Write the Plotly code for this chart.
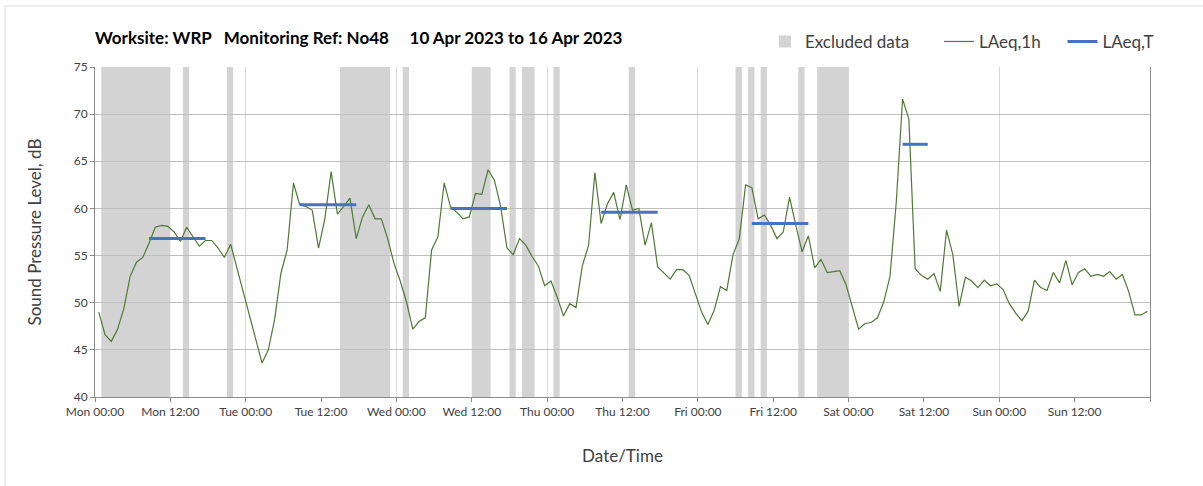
import pandas as pd
import plotly.graph_objects as go

# hourly LAeq readings, Mon 10 Apr 2023 00:00 onwards (168 values)
laeq_1h = [
    49.0, 46.6, 45.9, 47.2, 49.4, 52.8, 54.3, 54.8, 56.3, 58.0, 58.2, 58.1,
    57.5, 56.5, 58.0, 57.0, 56.0, 56.6, 56.6, 55.8, 54.8, 56.2, 53.7, 51.2,
    48.7, 46.2, 43.6, 45.0, 48.2, 53.1, 55.6, 62.7, 60.4, 60.2, 59.8, 55.8,
    58.9, 63.9, 59.4, 60.2, 61.1, 56.8, 59.1, 60.4, 58.9, 58.9, 56.8, 54.2,
    52.3, 50.1, 47.2, 48.0, 48.4, 55.6, 57.0, 62.7, 60.2, 59.6, 58.9, 59.1,
    61.6, 61.5, 64.1, 63.0, 60.2, 55.8, 55.1, 56.8, 56.1, 54.9, 53.9, 51.8,
    52.3, 50.6, 48.6, 49.9, 49.5, 53.9, 56.1, 63.8, 58.4, 60.5, 61.7, 58.8,
    62.5, 59.8, 60.0, 56.1, 58.5, 53.8, 53.2, 52.5, 53.5, 53.5, 52.9, 50.9,
    49.0, 47.7, 49.2, 51.7, 51.3, 55.1, 56.8, 62.5, 62.2, 58.9, 59.3, 58.2,
    56.8, 57.5, 61.2, 58.2, 55.4, 57.1, 53.7, 54.6, 53.2, 53.3, 53.4, 51.9,
    49.5, 47.2, 47.8, 47.9, 48.4, 50.1, 52.8, 60.7, 71.6, 69.5, 53.6, 52.9,
    52.5, 53.1, 51.2, 57.7, 55.1, 49.6, 52.7, 52.3, 51.6, 52.4, 51.8, 52.0,
    51.4, 49.9, 48.9, 48.1, 49.1, 52.4, 51.6, 51.3, 53.2, 52.1, 54.5, 51.9,
    53.2, 53.6, 52.8, 53.0, 52.8, 53.3, 52.5, 53.0, 51.2, 48.7, 48.7, 49.1,
]

# LAeq,T per assessment period (first and last hourly reading, in hours from start)
laeqt_first_h = [8, 32, 56, 80, 104, 128]
laeqt_last_h = [17, 41, 65, 89, 113, 132]
laeqt_value = [56.8, 60.4, 60.0, 59.6, 58.4, 66.8]

# excluded periods, hours from start
excl_start_h = [1, 14, 21, 39, 49, 60, 66, 68, 73, 85, 102, 104, 106, 112, 115]
excl_end_h = [12, 15, 22, 47, 50, 63, 67, 70, 74, 86, 103, 105, 107, 113, 120]

start = pd.Timestamp('2023-04-10 00:00')
end = pd.Timestamp('2023-04-17 00:00')
stamp = pd.Timedelta(minutes=36)  # readings plotted part-way through each hour

times = [start + pd.Timedelta(hours=i) + stamp for i in range(len(laeq_1h))]

tx, ty = [], []
for a, b, v in zip(laeqt_first_h, laeqt_last_h, laeqt_value):
    tx += [start + pd.Timedelta(hours=a) + stamp,
           start + pd.Timedelta(hours=b) + stamp, None]
    ty += [v, v, None]

# 12-hourly ticks, the closing Mon 00:00 left unlabelled
tick_vals = list(pd.date_range(start, end, freq='12h'))
tick_text = [t.strftime('%a %H:%M') for t in tick_vals[:-1]] + ['']

font = 'Lato, Open Sans, sans-serif'
grey = '#404040'
band = '#d3d3d3'

fig = go.Figure()

fig.add_trace(go.Scatter(
    x=times, y=laeq_1h, mode='lines', name='LAeq,1h',
    line=dict(color='#4f7a35', width=1.2), legend='legend2',
))
fig.add_trace(go.Scatter(
    x=tx, y=ty, mode='lines', name='LAeq,T',
    line=dict(color='#4472c4', width=3), legend='legend3',
))

# excluded bands as shapes below the grid
for k, (a, b) in enumerate(zip(excl_start_h, excl_end_h)):
    fig.add_shape(
        type='rect', xref='x', yref='y',
        x0=start + pd.Timedelta(hours=a), x1=start + pd.Timedelta(hours=b),
        y0=40, y1=75, fillcolor=band, line_width=0, layer='below',
        name='Excluded data', showlegend=(k == 0), legend='legend',
    )

# outer chart frame
fig.add_shape(type='rect', xref='paper', yref='paper',
              x0=-0.0853, x1=1.06, y0=-0.3, y1=1.185,
              line=dict(color='#d9d9d9', width=1), layer='below')

leg = dict(orientation='h', xanchor='left', y=1.076, yanchor='middle',
           font=dict(family=font, size=17, color=grey),
           bgcolor='rgba(0,0,0,0)')

fig.update_layout(
    width=1203, height=486,
    margin=dict(l=95, r=53, t=67, b=89),
    paper_bgcolor='white', plot_bgcolor='white',
    font=dict(family=font, size=12, color=grey),
    title=dict(
        text='<b>Worksite: WRP\u00a0\u00a0\u00a0Monitoring Ref: No48'
             '\u00a0\u00a0\u00a0\u00a0\u00a010 Apr 2023 to 16 Apr 2023</b>',
        font=dict(family=font, size=17, color='black'),
        x=0, xref='paper', xanchor='left',
        y=1 - 38 / 486, yref='container', yanchor='middle',
    ),
    legend=dict(leg, x=0.635),
    legend2=dict(leg, x=0.8),
    legend3=dict(leg, x=0.917),
)

fig.update_xaxes(
    type='date', range=[start, end],
    tickmode='array', tickvals=tick_vals, ticktext=tick_text,
    ticks='outside', ticklen=4, tickcolor='#8c8c8c',
    showline=True, linecolor='#8c8c8c', linewidth=1,
    showgrid=False,
    minor=dict(dtick=24 * 3600 * 1000, tick0=start, showgrid=True,
               gridcolor='#d9d9d9', gridwidth=1, ticks=''),
    tickfont=dict(size=12, color=grey),
    title=dict(text='Date/Time', font=dict(size=17, color=grey), standoff=31),
)
fig.update_yaxes(
    range=[40, 75], dtick=5,
    ticks='outside', ticklen=4, tickcolor='#8c8c8c',
    showline=True, linecolor='#8c8c8c', linewidth=1, mirror=True,
    showgrid=True, gridcolor='#bfbfbf', gridwidth=1, zeroline=False,
    tickfont=dict(size=12, color=grey),
    title=dict(text='Sound Pressure Level, dB', font=dict(size=17, color=grey),
               standoff=27),
)

fig.write_html('out.html', config={'displayModeBar': False},
               post_script="document.body.style.margin='0';")
